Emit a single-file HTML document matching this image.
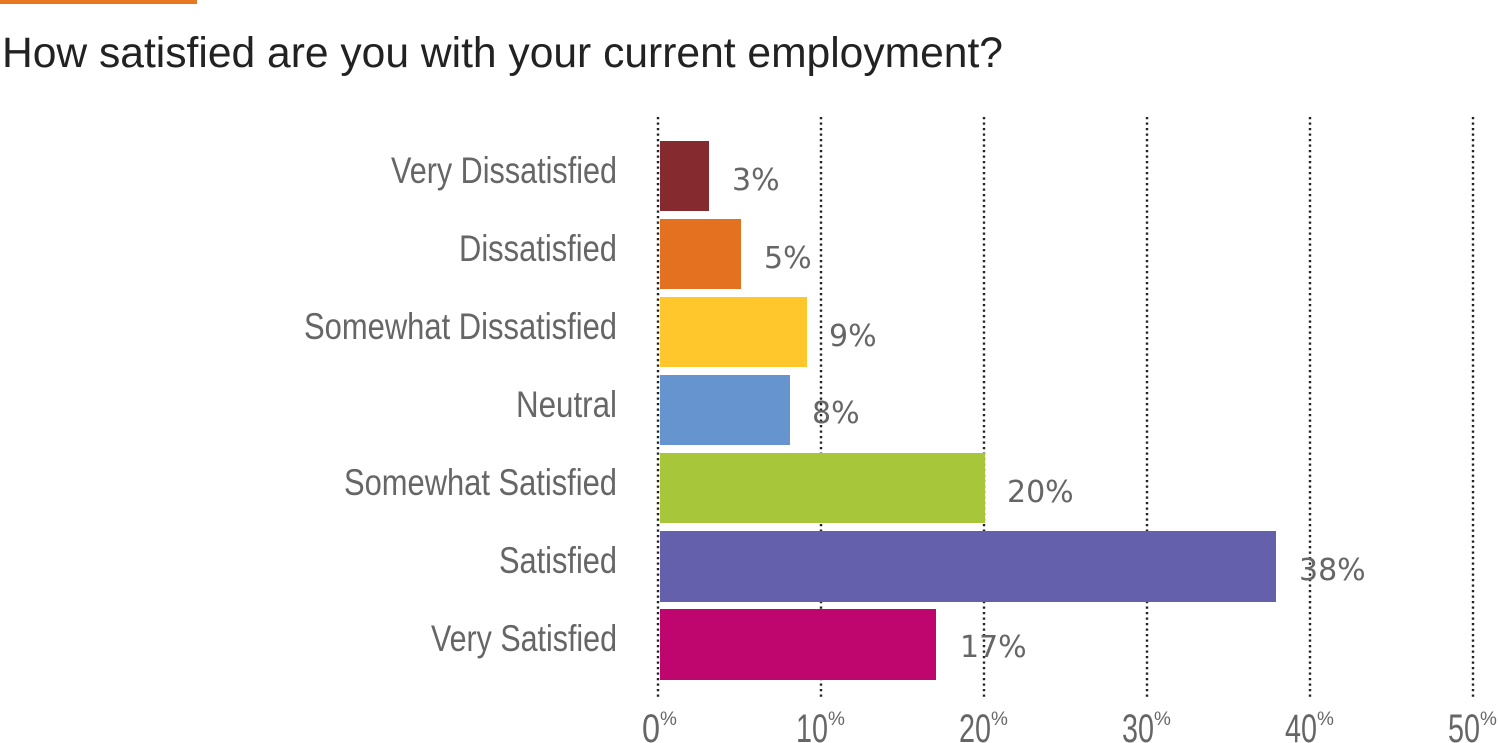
<!DOCTYPE html><html><head><style>body{margin:0;background:#fff}svg{display:block}</style></head><body>
<svg width="1498" height="743" xmlns="http://www.w3.org/2000/svg">
<rect x="0" y="0" width="197" height="4" fill="#E87722"/>
<text x="2" y="67" font-family="Liberation Sans, sans-serif" font-size="43" fill="#222" textLength="1001" lengthAdjust="spacingAndGlyphs">How satisfied are you with your current employment?</text>
<g stroke="#222" stroke-width="2.4" stroke-dasharray="2.2 3.3">
<line x1="658" y1="117" x2="658" y2="697"/><line x1="821" y1="117" x2="821" y2="697"/><line x1="984" y1="117" x2="984" y2="697"/><line x1="1147" y1="117" x2="1147" y2="697"/><line x1="1310" y1="117" x2="1310" y2="697"/><line x1="1473" y1="117" x2="1473" y2="697"/>
</g>
<rect x="660" y="141" width="49" height="70" fill="#852A2E"/>
<rect x="660" y="219" width="81" height="70" fill="#E4711F"/>
<rect x="660" y="297" width="147" height="70" fill="#FFC72C"/>
<rect x="660" y="375" width="130" height="70" fill="#6594CE"/>
<rect x="660" y="453" width="325" height="70" fill="#A8C639"/>
<rect x="660" y="531" width="616" height="71" fill="#6460AB"/>
<rect x="660" y="609" width="276" height="71" fill="#BE066E"/>
<g font-family="Liberation Sans, sans-serif" font-size="37" fill="#666">
<text x="391" y="183" textLength="226" lengthAdjust="spacingAndGlyphs">Very Dissatisfied</text>
<text x="459" y="261" textLength="158" lengthAdjust="spacingAndGlyphs">Dissatisfied</text>
<text x="304" y="339" textLength="313" lengthAdjust="spacingAndGlyphs">Somewhat Dissatisfied</text>
<text x="516" y="417" textLength="101" lengthAdjust="spacingAndGlyphs">Neutral</text>
<text x="344" y="495" textLength="273" lengthAdjust="spacingAndGlyphs">Somewhat Satisfied</text>
<text x="499" y="573" textLength="118" lengthAdjust="spacingAndGlyphs">Satisfied</text>
<text x="431" y="651" textLength="186" lengthAdjust="spacingAndGlyphs">Very Satisfied</text>
</g>
<g font-family="DejaVu Sans, sans-serif" font-size="30" fill="#666">
<text x="732" y="190">3%</text>
<text x="764" y="268">5%</text>
<text x="829" y="346">9%</text>
<text x="812" y="423">8%</text>
<text x="1007" y="502">20%</text>
<text x="1299" y="580">38%</text>
<text x="960" y="657">17%</text>
</g>
<g font-family="Liberation Sans, sans-serif" font-size="40" fill="#666">
<text x="642" y="742"><tspan textLength="18" lengthAdjust="spacingAndGlyphs">0</tspan><tspan font-size="19" dy="-17">%</tspan></text>
<text x="796" y="742"><tspan textLength="32" lengthAdjust="spacingAndGlyphs">10</tspan><tspan font-size="19" dy="-17">%</tspan></text>
<text x="959" y="742"><tspan textLength="32" lengthAdjust="spacingAndGlyphs">20</tspan><tspan font-size="19" dy="-17">%</tspan></text>
<text x="1122" y="742"><tspan textLength="32" lengthAdjust="spacingAndGlyphs">30</tspan><tspan font-size="19" dy="-17">%</tspan></text>
<text x="1285" y="742"><tspan textLength="32" lengthAdjust="spacingAndGlyphs">40</tspan><tspan font-size="19" dy="-17">%</tspan></text>
<text x="1448" y="742"><tspan textLength="32" lengthAdjust="spacingAndGlyphs">50</tspan><tspan font-size="19" dy="-17">%</tspan></text>
</g>
</svg></body></html>
